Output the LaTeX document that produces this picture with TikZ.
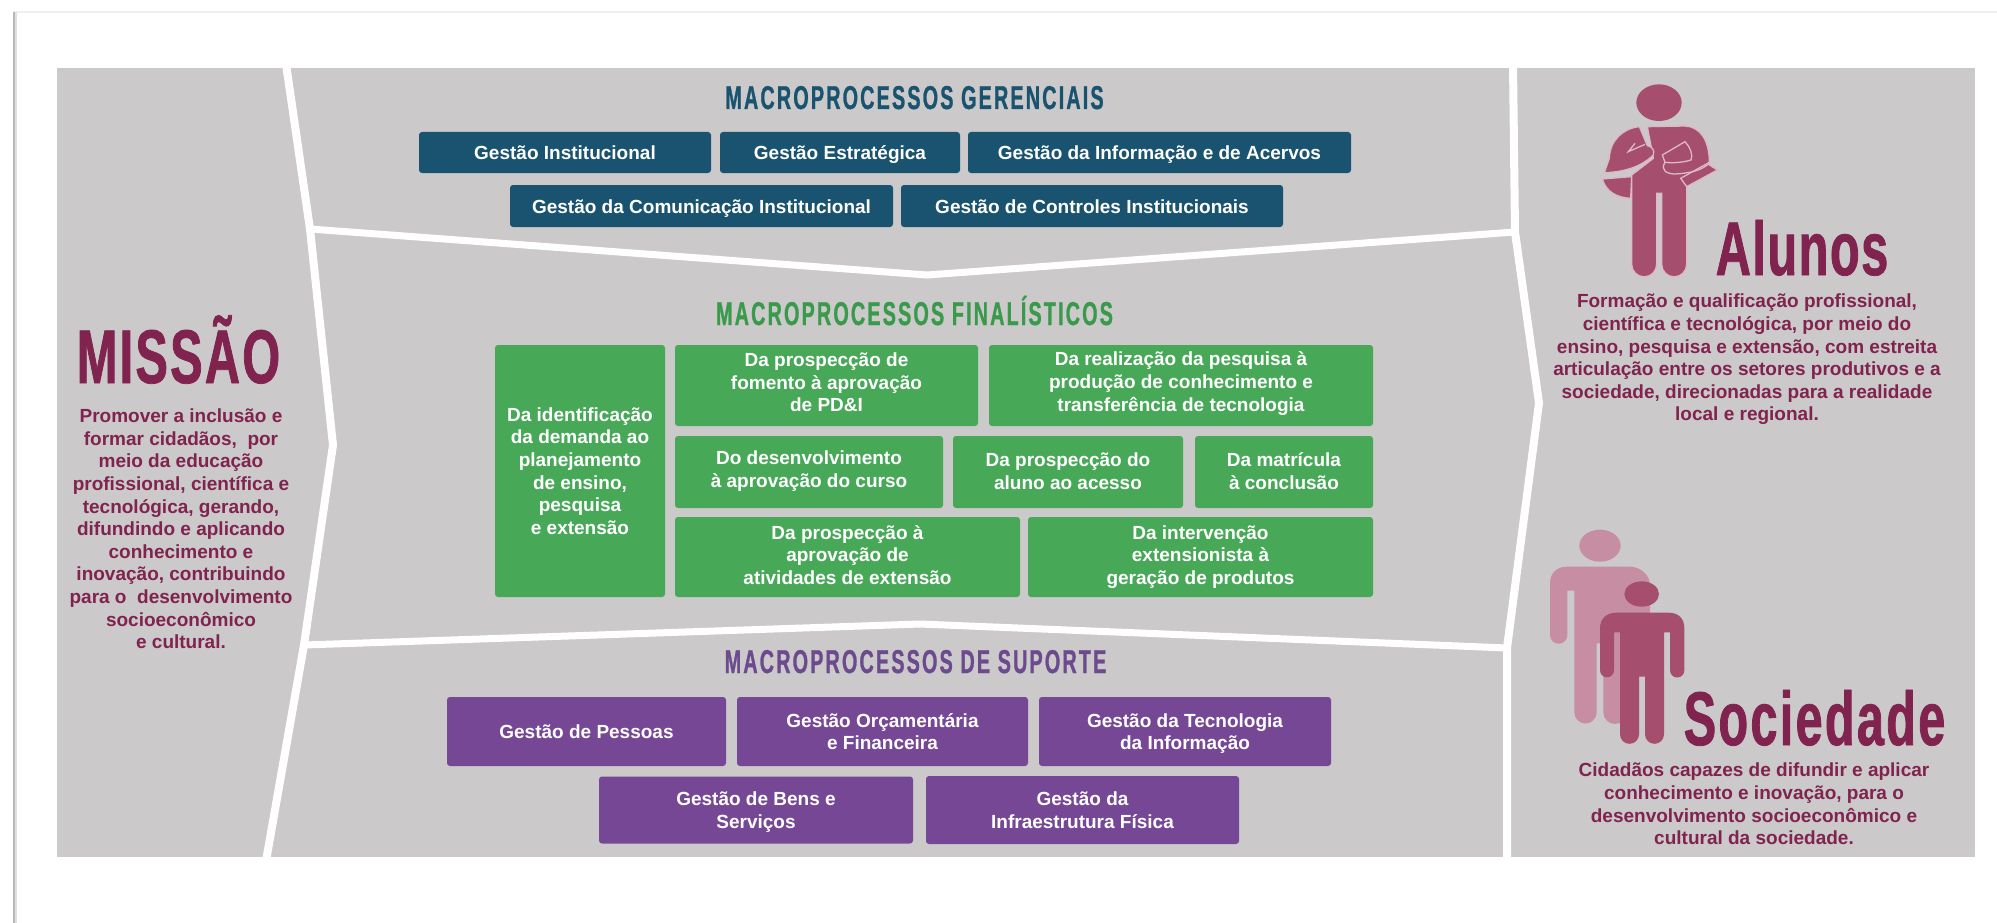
\documentclass[tikz,border=0pt]{standalone}
\usepackage{fontspec}
\setmainfont{Liberation Sans}
\newfontfamily\headfont[FakeStretch=0.6,FakeBold=0.8,LetterSpace=6.5]{Liberation Sans}
\newfontfamily\bigfont[FakeStretch=0.64,FakeBold=1,LetterSpace=3]{Liberation Sans}

\definecolor{cinza}{HTML}{CBC9CA}
\definecolor{azul}{HTML}{19536F}
\definecolor{verde}{HTML}{47A957}
\definecolor{verdetit}{HTML}{3A9A4C}
\definecolor{roxo}{HTML}{754795}
\definecolor{roxotit}{HTML}{6C4A8E}
\definecolor{vinho}{HTML}{80234F}
\definecolor{rosa}{HTML}{A64E6E}
\definecolor{rosaclaro}{HTML}{C78DA3}
\definecolor{contorno}{HTML}{DDB9C6}

\tikzset{
  procbox/.style={rounded corners=3pt,inner sep=0pt,align=center,text=white,text depth=0pt,
    execute at begin node={\rule{0pt}{14pt}},
    font=\bfseries\fontsize{19}{22.6}\selectfont},
  gerbox/.style={procbox,fill=azul},
  fimbox/.style={procbox,fill=verde},
  supbox/.style={procbox,fill=roxo},
  hdtext/.style={anchor=base,inner sep=0pt,font=\headfont\bfseries\fontsize{33}{33}\selectfont},
  bigtext/.style={anchor=base,inner sep=0pt,text=vinho,font=\bigfont\bfseries\fontsize{76}{76}\selectfont},
  bodytext/.style={inner sep=0pt,align=center,text=vinho,font=\bfseries\fontsize{19}{22.6}\selectfont},
  divisor/.style={draw=white,line width=8pt,line join=miter},
  traco/.style={draw=contorno,line width=1.3pt}
}

\begin{document}
\begin{tikzpicture}[x=1pt,y=-1pt]
  \useasboundingbox (0,0) rectangle (1997,923);
  % page edge
  \draw[black!6,line width=1.5pt] (14,12) -- (1997,12);
  \draw[black!12,line width=4pt] (15,12) -- (15,923);
  \draw[black!28,line width=1.5pt] (14,12) -- (14,923);
  \fill[cinza] (57,68) rectangle (1975,857);

  \coordinate (lt) at (286,64);
  \coordinate (lj) at (310,229);
  \coordinate (lp) at (333,445);
  \coordinate (lk) at (304,645);
  \coordinate (lb) at (266,861);
  \coordinate (rt) at (1513,64);
  \coordinate (rj) at (1515,232);
  \coordinate (rp) at (1539,403);
  \coordinate (rk) at (1507,648);
  \coordinate (rb) at (1507,861);
  \coordinate (uc) at (927,275);
  \coordinate (lc) at (920,624);
  \draw[divisor] (lt) -- (lj) -- (lp) -- (lk) -- (lb);
  \draw[divisor] (rt) -- (rj) -- (rp) -- (rk) -- (rb);
  \draw[divisor,line width=7pt] (lj) -- (uc) -- (rj);
  \draw[divisor,line width=7pt] (lk) -- (lc) -- (rk);

  % gerenciais
  \node[hdtext,text=azul] at (914.5,109) (tger) {MACROPROCESSOS GERENCIAIS};
  \node[gerbox,minimum width=292pt,minimum height=41pt] at (565,152.5) (ginst) {Gestão Institucional};
  \node[gerbox,minimum width=240pt,minimum height=41pt] at (840,152.5) (gestr) {Gestão Estratégica};
  \node[gerbox,minimum width=383pt,minimum height=41pt] at (1159.5,152.5) (ginfo) {Gestão da Informação e de Acervos};
  \node[gerbox,minimum width=383pt,minimum height=42pt] at (701.5,206) (gcom) {Gestão da Comunicação Institucional};
  \node[gerbox,minimum width=382pt,minimum height=42pt] at (1092,206) (gctr) {Gestão de Controles Institucionais};

  % finalisticos
  \node[hdtext,text=verdetit] at (914.5,325) (tfim) {MACROPROCESSOS FINALÍSTICOS};
  \node[fimbox,minimum width=170pt,minimum height=252pt] at (580,471) (fid) {Da identificação\\da demanda ao\\planejamento\\de ensino,\\pesquisa\\e extensão};
  \node[fimbox,text depth=6pt,minimum width=303pt,minimum height=81pt] at (826.5,385.5) (fpd) {Da prospecção de\\fomento à aprovação\\de PD\&I};
  \node[fimbox,text depth=8pt,minimum width=384pt,minimum height=81pt] at (1181,385.5) (fre) {Da realização da pesquisa à\\produção de conhecimento e\\transferência de tecnologia};
  \node[fimbox,text depth=6pt,minimum width=268pt,minimum height=72pt] at (809,472) (fde) {Do desenvolvimento\\à aprovação do curso};
  \node[fimbox,text depth=2pt,minimum width=230pt,minimum height=72pt] at (1068,472) (fal) {Da prospecção do\\aluno ao acesso};
  \node[fimbox,text depth=2pt,minimum width=178pt,minimum height=72pt] at (1284,472) (fma) {Da matrícula\\à conclusão};
  \node[fimbox,text depth=4pt,minimum width=345pt,minimum height=80pt] at (847.5,557) (fat) {Da prospecção à\\aprovação de\\atividades de extensão};
  \node[fimbox,text depth=4pt,minimum width=345pt,minimum height=80pt] at (1200.5,557) (fin) {Da intervenção\\extensionista à\\geração de produtos};

  % suporte
  \node[hdtext,text=roxotit] at (915.5,673) (tsup) {MACROPROCESSOS DE SUPORTE};
  \node[supbox,minimum width=279pt,minimum height=69pt] at (586.5,731.5) (spes) {Gestão de Pessoas};
  \node[supbox,text depth=-4pt,minimum width=291pt,minimum height=69pt] at (882.5,731.5) (sorc) {Gestão Orçamentária\\e Financeira};
  \node[supbox,text depth=-8pt,minimum width=292pt,minimum height=69pt] at (1185,731.5) (stec) {Gestão da Tecnologia\\da Informação};
  \node[supbox,minimum width=314pt,minimum height=67pt] at (756,810) (sben) {Gestão de Bens e\\Serviços};
  \node[supbox,minimum width=313pt,minimum height=68pt] at (1082.5,810) (sinf) {Gestão da\\Infraestrutura Física};

  % missao
  \node[bigtext] at (178.5,383) (tmis) {MISSÃO};
  \node[bodytext] at (181,529) (bmis) {Promover a inclusão e\\formar cidadãos,\ \ por\\meio da educação\\profissional, científica e\\tecnológica, gerando,\\difundindo e aplicando\\conhecimento e\\inovação, contribuindo\\para o\ \ desenvolvimento\\socioeconômico\\e cultural.};

  % alunos
  \node[bigtext] at (1802,275) (talu) {\addfontfeature{LetterSpace=2}Alunos};
  \node[bodytext] at (1747,359.5) (balu) {Formação e qualificação profissional,\\científica e tecnológica, por meio do\\ensino, pesquisa e extensão, com estreita\\articulação entre os setores produtivos e a\\sociedade, direcionadas para a realidade\\local e regional.};

  \begin{scope}[shift={(1590,75)},scale=1/3]
    \fill[rosa] (207,83) ellipse [x radius=68,y radius=55];
    \filldraw[fill=rosa,traco] (335,255) -- (382,285) -- (290,335) -- (262,305) -- cycle;
    \filldraw[fill=rosa,traco] (37,312) -- (125,305) -- (122,370) .. controls (80,368) and (48,350) .. cycle;
    \filldraw[fill=rosa,traco] (172,155) -- (285,153) .. controls (330,155) and (358,195) .. (358,262)
      -- (272,310) -- (290,335) -- (290,568) arc[start angle=0,end angle=180,radius=37.5]
      -- (215,355) -- (200,355) -- (200,568) arc[start angle=0,end angle=180,radius=37.5]
      -- (125,300) -- (190,250) -- cycle;
    \filldraw[fill=rosa,traco] (148,155) .. controls (100,160) and (60,195) .. (58,250) -- (43,293)
      .. controls (90,292) and (150,280) .. (190,240) .. controls (195,225) and (185,214) .. (172,212) -- cycle;
    \draw[traco] (165,208) -- (115,230) -- (135,205);
    \draw[traco] (217,240) -- (285,200) .. controls (300,215) and (310,240) .. (303,255)
      .. controls (280,262) and (250,265) .. (225,262) -- cycle;
    \draw[traco] (225,262) .. controls (210,285) and (230,297) .. (255,297) .. controls (300,295) and (340,285) .. (360,262);
  \end{scope}

  % sociedade
  \node[bigtext] at (1814.5,745) (tsoc) {Sociedade};
  \node[bodytext] at (1754,804) (bsoc) {Cidadãos capazes de difundir e aplicar\\conhecimento e inovação, para o\\desenvolvimento socioeconômico e\\cultural da sociedade.};

  \begin{scope}[shift={(1540,520)},scale=1/3]
    \fill[rosaclaro] (180,77) ellipse [x radius=62,y radius=48];
    \fill[rosaclaro] (30,190) .. controls (30,160) and (50,140) .. (80,140) -- (270,140)
      .. controls (300,140) and (330,165) .. (330,195) -- (330,320) -- (260,320) -- (260,577)
      arc[start angle=0,end angle=180,radius=35] -- (190,370) -- (170,370) -- (170,577)
      arc[start angle=0,end angle=180,radius=33.5] -- (103,212) -- (82,212) -- (82,345)
      arc[start angle=0,end angle=180,radius=26] -- cycle;
    \fill[rosa] (305,222) ellipse [x radius=52,y radius=38];
    \fill[rosa] (180,325) .. controls (180,295) and (200,278) .. (230,278) -- (385,278)
      .. controls (415,278) and (433,295) .. (433,325) -- (433,451)
      arc[start angle=0,end angle=180,radius=21.5] -- (390,337) -- (372,337) -- (372,643)
      arc[start angle=0,end angle=180,radius=28.5] -- (315,470) -- (297,470) -- (297,643)
      arc[start angle=0,end angle=180,radius=28.5] -- (240,337) -- (222,337) -- (222,451)
      arc[start angle=0,end angle=180,radius=21] -- cycle;
  \end{scope}
\end{tikzpicture}
\end{document}
